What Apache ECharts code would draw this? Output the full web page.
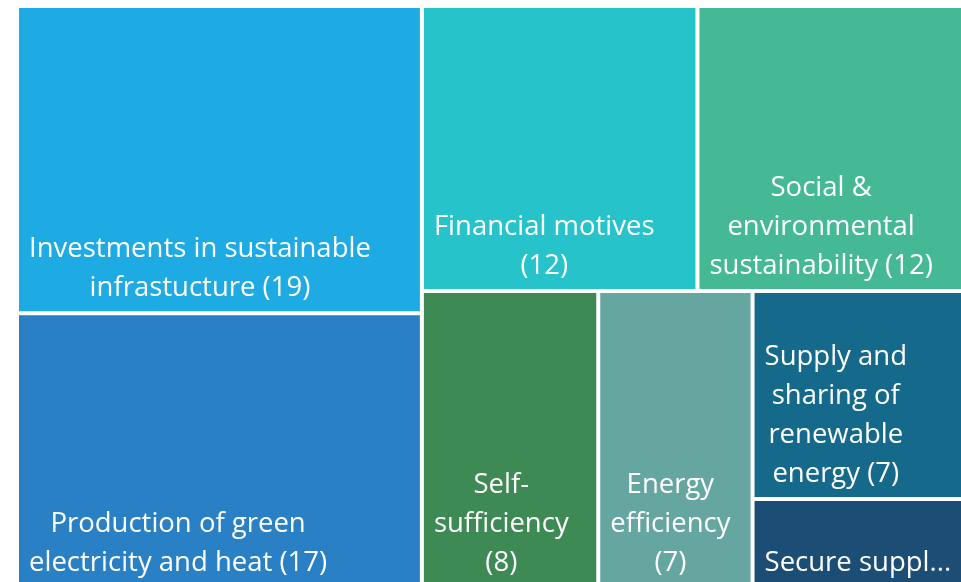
<!DOCTYPE html>
<html>
<head>
<meta charset="utf-8">
<title>Treemap</title>
<script src="https://cdn.jsdelivr.net/npm/echarts@6/dist/echarts.min.js"></script>
<style>
  html, body { margin: 0; padding: 0; background: #fff; }
  #treemap { width: 961px; height: 582px; }
</style>
</head>
<body>
<div id="treemap"></div>
<script>
  // names keep the line breaks used in the picture; a trailing \n puts the count on its own line
  const names = [
    'Investments in sustainable\ninfrastucture',
    'Production of green\nelectricity and heat',
    'Financial motives\n',
    'Social &\nenvironmental\nsustainability',
    'Self-\nsufficiency\n',
    'Energy\nefficiency\n',
    'Supply and\nsharing of\nrenewable\nenergy',
    'Secure supply'
  ];
  const values = [19, 17, 12, 12, 8, 7, 7, 3];
  const colors = ['#1eaae2', '#2a80c5', '#27c3cb', '#45b995', '#3e8a55', '#66a6a0', '#15698a', '#1c4d74'];

  const fontFamily = '"Segoe UI", "Open Sans", sans-serif';
  const fontSize = 27.5;
  const lineHeight = 39;

  const measureCtx = document.createElement('canvas').getContext('2d');
  function textWidth(s) {
    measureCtx.font = fontSize + 'px ' + fontFamily;
    return measureCtx.measureText(s).width;
  }

  const chart = echarts.init(document.getElementById('treemap'));
  const option = {
    animation: false,
    series: [{
      type: 'treemap',
      left: 19,
      top: 8,
      width: 952,
      height: 578,
      sort: false,
      squareRatio: 1,
      roam: false,
      nodeClick: false,
      breadcrumb: { show: false },
      itemStyle: { gapWidth: 4, borderWidth: 0, borderColor: '#fff' },
      levels: [{ itemStyle: { gapWidth: 4, borderWidth: 0 } }],
      label: {
        show: true,
        position: 'insideTopLeft',
        padding: [0, 10, 0, 10],
        color: '#fff',
        fontFamily: fontFamily,
        fontSize: fontSize,
        lineHeight: lineHeight,
        overflow: 'truncate',
        formatter: function (p) {
          const sep = p.name.endsWith('\n') ? '' : ' ';
          return p.name + sep + '(' + p.value + ')';
        }
      },
      // 文本块靠左，行居中，贴底；放不下时左对齐截断
      labelLayout: function (p) {
        const lines = p.text.split('\n');
        const r = p.rect;
        const w = Math.max.apply(null, lines.map(textWidth));
        const y = r.y + r.height - 3 - lines.length * lineHeight;
        if (w > r.width - 20) {
          return { x: r.x, y: y, align: 'left', verticalAlign: 'top' };
        }
        return { x: r.x + 10 + w / 2, y: y, align: 'center', verticalAlign: 'top' };
      },
      data: names.map(function (n, i) {
        return { name: n, value: values[i], itemStyle: { color: colors[i] } };
      })
    }]
  };
  chart.setOption(option);
</script>
</body>
</html>
